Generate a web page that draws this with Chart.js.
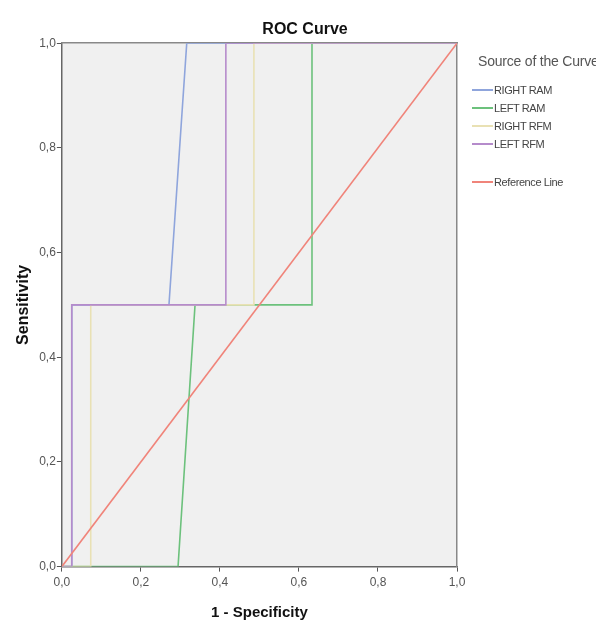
<!DOCTYPE html>
<html>
<head>
<meta charset="utf-8">
<script src="https://cdn.jsdelivr.net/npm/chart.js@4.4.1/dist/chart.umd.min.js"></script>
<style>
    html, body { margin: 0; padding: 0; background: #fff; }
    #wrap { position: relative; width: 596px; height: 626px; overflow: hidden; }
    #legend {
        position: absolute; left: 472px; top: 53px;
        font-family: "Liberation Sans", Arial, sans-serif;
        color: #444; white-space: nowrap;
    }
    #legend .head { font-size: 14px; line-height: 17px; color: #555; margin: 0 0 11px 6px; letter-spacing: -0.2px; }
    #legend .item { display: flex; align-items: center; font-size: 11px; height: 18px; letter-spacing: -0.4px; }
    #legend .item.gap { margin-top: 20px; }
    #legend .swatch { width: 21px; height: 2px; margin-right: 1px; }
</style>
</head>
<body>
<div id="wrap">
    <canvas id="rocChart" width="596" height="626"></canvas>
    <div id="legend"></div>
</div>
<script>
/* -------- Data -------- */
const seriesNames = ['RIGHT RAM', 'LEFT RAM', 'RIGHT RFM', 'LEFT RFM'];

const rightRamX = [0, 0.025, 0.025, 0.271, 0.316, 1];
const rightRamY = [0, 0, 0.5, 0.5, 1, 1];

const leftRamX = [0, 0.294, 0.337, 0.633, 0.633, 1];
const leftRamY = [0, 0, 0.5, 0.5, 1, 1];

const rightRfmX = [0, 0.073, 0.073, 0.486, 0.486, 1];
const rightRfmY = [0, 0, 0.5, 0.5, 1, 1];

const leftRfmX = [0, 0.025, 0.025, 0.415, 0.415, 1];
const leftRfmY = [0, 0, 0.5, 0.5, 1, 1];

const refLineX = [0, 1];
const refLineY = [0, 1];

const tickValues = [0, 0.2, 0.4, 0.6, 0.8, 1.0];

/* -------- Colours -------- */
const COLORS = {
    rightRam: '#8fa5dc',
    leftRam: '#6cc17c',
    rightRfm: '#e9e1b4',
    leftRfm: '#b58bcb',
    ref: '#f0847a'
};

const FONT = '"Liberation Sans", Arial, sans-serif';

function toPoints(xs, ys) {
    return xs.map((x, i) => ({ x: x, y: ys[i] }));
}

function commaTick(v) {
    return Number(v).toFixed(1).replace('.', ',');
}

/* -------- Plot background -------- */
const plotBackground = {
    id: 'plotBackground',
    beforeDraw(chart) {
        const a = chart.chartArea;
        const ctx = chart.ctx;
        ctx.save();
        ctx.fillStyle = '#f0f0f0';
        ctx.fillRect(a.left, a.top, a.right - a.left, a.bottom - a.top);
        ctx.restore();
    }
};

// order: lower number is drawn on top (SPSS draws later curves over earlier ones)
const curves = [
    { label: seriesNames[0], data: toPoints(rightRamX, rightRamY), color: COLORS.rightRam, order: 5 },
    { label: seriesNames[1], data: toPoints(leftRamX, leftRamY), color: COLORS.leftRam, order: 4 },
    { label: seriesNames[2], data: toPoints(rightRfmX, rightRfmY), color: COLORS.rightRfm, order: 3 },
    { label: seriesNames[3], data: toPoints(leftRfmX, leftRfmY), color: COLORS.leftRfm, order: 2 },
    { label: 'Reference Line', data: toPoints(refLineX, refLineY), color: COLORS.ref, order: 1 }
];

const frameAxis = {
    display: true,
    min: 0,
    max: 1,
    ticks: { display: false },
    grid: { display: false },
    border: { display: true, color: '#888', width: 1.5 }
};

new Chart(document.getElementById('rocChart').getContext('2d'), {
    type: 'scatter',
    data: {
        datasets: curves.map(c => ({
            label: c.label,
            data: c.data,
            order: c.order,
            showLine: true,
            borderColor: c.color,
            backgroundColor: c.color,
            borderWidth: 1.6,
            pointRadius: 0,
            tension: 0
        }))
    },
    options: {
        responsive: false,
        animation: false,
        layout: { padding: { left: 14, top: 0, bottom: 0, right: 0 } },
        scales: {
            x: {
                type: 'linear',
                min: 0,
                max: 1,
                afterBuildTicks: s => { s.ticks = tickValues.map(v => ({ value: v })); },
                ticks: {
                    callback: commaTick,
                    color: '#555',
                    font: { family: FONT, size: 12 },
                    padding: 4,
                    maxRotation: 0
                },
                grid: { drawOnChartArea: false, drawTicks: true, tickLength: 5, color: '#555' },
                border: { color: '#666', width: 1.5 },
                title: {
                    display: true,
                    text: '1 - Specificity',
                    color: '#111',
                    font: { family: FONT, size: 15, weight: 'bold' },
                    padding: { top: 10, bottom: 4 }
                }
            },
            y: {
                type: 'linear',
                min: 0,
                max: 1,
                afterBuildTicks: s => { s.ticks = tickValues.map(v => ({ value: v })); },
                ticks: {
                    callback: commaTick,
                    color: '#555',
                    font: { family: FONT, size: 12 },
                    padding: 1
                },
                grid: { drawOnChartArea: false, drawTicks: true, tickLength: 5, color: '#555' },
                border: { color: '#666', width: 1.5 },
                title: {
                    display: true,
                    text: 'Sensitivity',
                    color: '#111',
                    font: { family: FONT, size: 16, weight: 'bold' },
                    padding: { top: 0, bottom: 5 }
                }
            },
            xTop: Object.assign({}, frameAxis, {
                type: 'linear',
                position: 'top',
                afterFit: s => { s.height = 0; }
            }),
            yRight: Object.assign({}, frameAxis, {
                type: 'linear',
                position: 'right',
                afterFit: s => { s.width = 139; }
            })
        },
        plugins: {
            legend: { display: false },
            tooltip: { enabled: false },
            title: {
                display: true,
                text: 'ROC Curve',
                color: '#111',
                font: { family: FONT, size: 16, weight: 'bold' },
                padding: { top: 20, bottom: 4 }
            }
        }
    },
    plugins: [plotBackground]
});

/* -------- Legend (HTML) -------- */
const legendEl = document.getElementById('legend');
legendEl.innerHTML = '<div class="head">Source of the Curve</div>' +
    curves.map((c, i) =>
        `<div class="item${i === curves.length - 1 ? ' gap' : ''}">` +
        `<span class="swatch" style="background:${c.color}"></span>${c.label}</div>`
    ).join('');
</script>
</body>
</html>
